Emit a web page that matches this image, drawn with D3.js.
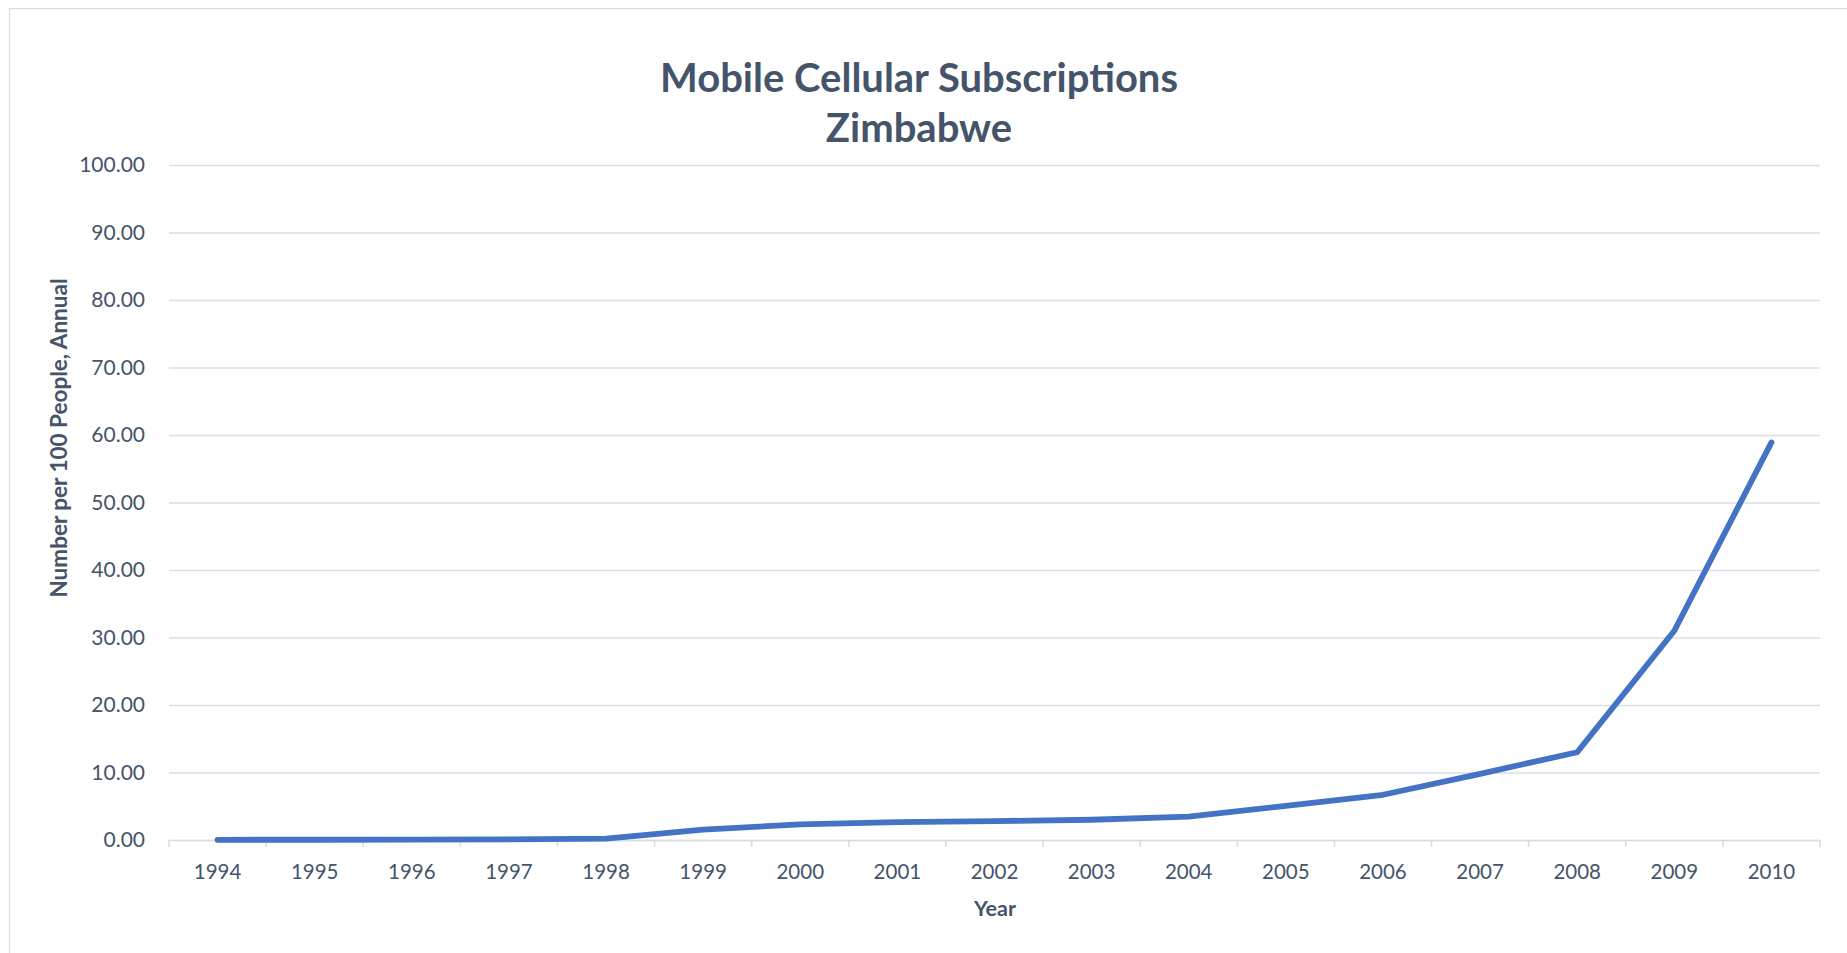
<!DOCTYPE html>
<html>
<head>
<meta charset="utf-8">
<script src="https://cdn.jsdelivr.net/npm/d3@7"></script>
<style>
  html, body { margin: 0; padding: 0; background: #ffffff; }
  svg { display: block; }
  text { font-family: Lato, "Open Sans", "Noto Sans", sans-serif; fill: #44546a; }
</style>
</head>
<body>
<svg id="chart" width="1847" height="953"></svg>
<script>
const titleLines = ["Mobile Cellular Subscriptions", "Zimbabwe"];
const yAxisTitle = "Number per 100 People, Annual";
const xAxisTitle = "Year";
const years = ["1994","1995","1996","1997","1998","1999","2000","2001","2002","2003","2004","2005","2006","2007","2008","2009","2010"];
const subscriptions = [0.03, 0.04, 0.05, 0.08, 0.2, 1.55, 2.3, 2.65, 2.8, 3.0, 3.45, 5.05, 6.7, 9.8, 13.0, 31.0, 58.9];
const yTicks = [0, 10, 20, 30, 40, 50, 60, 70, 80, 90, 100];

const svg = d3.select("#chart");
const W = 1847, H = 953;
const plot = { left: 169, right: 1820, top: 165, bottom: 840 };

// outer chart border (extends past right/bottom edge)
svg.append("rect")
  .attr("x", 9.5).attr("y", 8.5)
  .attr("width", W + 20).attr("height", H + 20)
  .attr("fill", "#ffffff").attr("stroke", "#d9dce1").attr("stroke-width", 1.2);

const x = d3.scaleBand().domain(years).range([plot.left, plot.right]).paddingInner(0).paddingOuter(0);
const y = d3.scaleLinear().domain([0, 100]).range([plot.bottom, plot.top]);

// gridlines + y labels
const yAxis = d3.axisLeft(y).tickValues(yTicks).tickFormat(d3.format(".2f"))
  .tickSize(-(plot.right - plot.left)).tickPadding(24);
const gy = svg.append("g").attr("transform", `translate(${plot.left},0)`).call(yAxis);
gy.select(".domain").remove();
gy.selectAll(".tick line").attr("stroke", "#d9dde4").attr("stroke-width", 1.6);
gy.selectAll(".tick text").attr("font-size", 21).style("fill", "#44546a")
  .attr("font-family", "Lato, 'Open Sans', sans-serif");

// x axis
const xAxis = d3.axisBottom(x).tickSize(0).tickPadding(0);
const gx = svg.append("g").attr("transform", `translate(0,${plot.bottom})`).call(xAxis);
gx.select(".domain").attr("stroke", "#d9dde4").attr("stroke-width", 1.6);
gx.selectAll(".tick text").attr("font-size", 20.5).attr("y", 39).attr("dy", 0).style("fill", "#44546a")
  .attr("font-family", "Lato, 'Open Sans', sans-serif");
// category boundary ticks
const bounds = years.map(d => x(d)).concat([x(years[years.length - 1]) + x.bandwidth()]);
svg.append("g").selectAll("line").data(bounds).join("line")
  .attr("x1", d => d).attr("x2", d => d)
  .attr("y1", plot.bottom).attr("y2", plot.bottom + 7)
  .attr("stroke", "#d9dde4").attr("stroke-width", 1.6);

// line
const line = d3.line()
  .x((d, i) => x(years[i]) + x.bandwidth() / 2)
  .y(d => y(d));
svg.append("path").datum(subscriptions)
  .attr("d", line)
  .attr("fill", "none")
  .attr("stroke", "#4472c4")
  .attr("stroke-width", 5.8)
  .attr("stroke-linecap", "round")
  .attr("stroke-linejoin", "round");

// title
svg.append("text").attr("x", 919).attr("y", 92).attr("text-anchor", "middle")
  .attr("font-size", 40).attr("font-weight", 700).text(titleLines[0]);
svg.append("text").attr("x", 919).attr("y", 142).attr("text-anchor", "middle")
  .attr("font-size", 40).attr("font-weight", 700).text(titleLines[1]);

// axis titles
svg.append("text").attr("transform", "translate(67,438) rotate(-90)")
  .attr("text-anchor", "middle").attr("font-size", 22.5).attr("font-weight", 700).text(yAxisTitle);
svg.append("text").attr("x", 995).attr("y", 916).attr("text-anchor", "middle")
  .attr("font-size", 21.5).attr("font-weight", 700).text(xAxisTitle);
</script>
</body>
</html>
